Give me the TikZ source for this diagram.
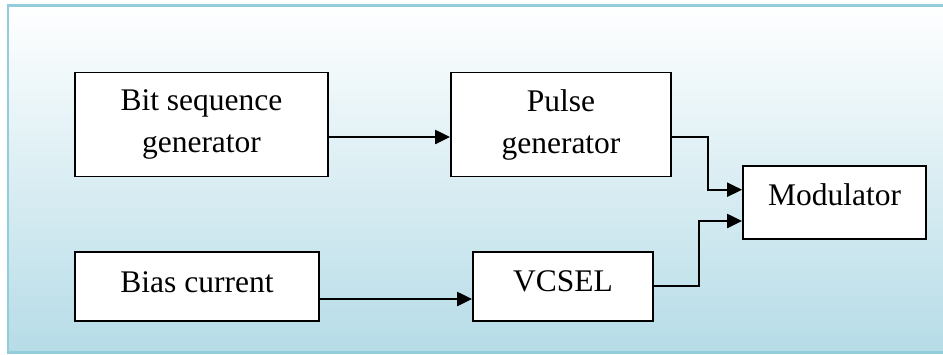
\documentclass[tikz,border=0pt]{standalone}
\usepackage{fontspec}
\setmainfont{Liberation Serif}
\usetikzlibrary{arrows.meta}
\definecolor{frameblue}{HTML}{93CDDC}
\definecolor{bottomblue}{HTML}{B6DCE7}
\begin{document}
\begin{tikzpicture}[x=1pt,y=-1pt,
  blockbox/.style={draw=black,line width=1.8pt,fill=white,inner sep=0pt,
    font=\fontsize{31.5}{42}\selectfont,align=center},
  conn/.style={line width=2.2pt,-{Triangle[length=15pt,width=14pt]}}]
\useasboundingbox (0,0) rectangle (943,354);
\begin{scope}
\clip (0,0) rectangle (943,354);
\shade[top color=white,bottom color=bottomblue] (8,5) rectangle (960,352.5);
\draw[frameblue,line width=2.8pt] (960,5.3) -- (8,5.3) -- (8,352.5) -- (960,352.5);
\end{scope}
\node[blockbox,minimum width=253pt,minimum height=104pt] (bit) at (201.5,124.5) {Bit sequence\\generator};
\node[blockbox,minimum width=220pt,minimum height=104pt] (pulse) at (561,124.5) {Pulse\\generator};
\node[blockbox,minimum width=244pt,minimum height=69pt,text height=22pt,text depth=11pt] (bias) at (197,286.5) {Bias current};
\node[blockbox,minimum width=180pt,minimum height=69pt,text height=22pt,text depth=13pt] (vcsel) at (563,286.5) {VCSEL};
\node[blockbox,minimum width=183pt,minimum height=73pt,text height=22pt,text depth=17pt] (mod) at (834.5,202.5) {Modulator};
\draw[conn] ([yshift=-12.5pt]bit.east) -- ([yshift=-12.5pt]pulse.west);
\draw[conn] ([yshift=-12.5pt]bias.east) -- ([yshift=-12.5pt]vcsel.west);
\draw[conn] ([yshift=-12.5pt]pulse.east) -- ++(35.7,0) |- ([yshift=12.8pt]mod.west);
\draw[conn] ([yshift=0.5pt]vcsel.east) -- ++(44.7,0) |- ([yshift=-18.5pt]mod.west);
\end{tikzpicture}
\end{document}
